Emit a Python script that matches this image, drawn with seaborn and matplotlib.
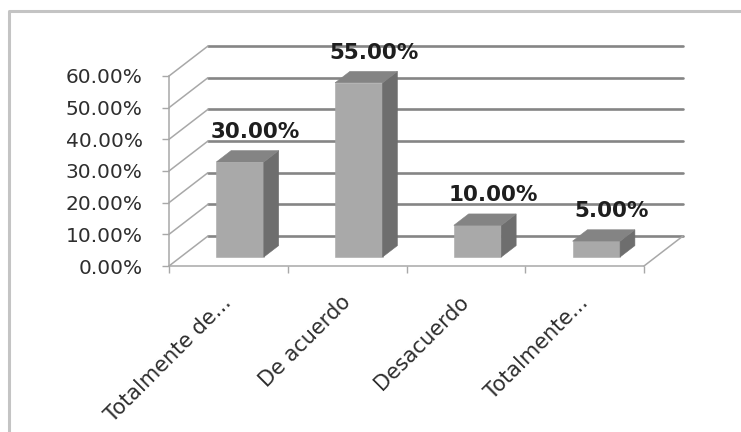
import matplotlib
matplotlib.use("Agg")
import numpy as np
import pandas as pd
import matplotlib.pyplot as plt
import seaborn as sns
from matplotlib.transforms import Affine2D, IdentityTransform
from matplotlib.patches import Polygon
from matplotlib.lines import Line2D
from matplotlib.ticker import PercentFormatter

# Survey answers and their shares
categories = ["Totalmente de...", "De acuerdo", "Desacuerdo", "Totalmente..."]
shares = [0.30, 0.55, 0.10, 0.05]
value_ticks = [0.0, 0.1, 0.2, 0.3, 0.4, 0.5, 0.6]

W, H, DPI = 741, 432, 100
DEPTH_PX = np.array([39.0, 30.0])      # floor depth, pixels to the right / upwards
BAR_FRONT, BAR_BACK = 0.30, 0.68       # bar depth as a fraction of the floor depth

FRONT_C = "#a9a9a9"
SIDE_C = "#6e6e6e"
TOP_C = "#848484"
GRID_C = "#858585"
WALL_C = "#a8a8a8"
TEXT_C = "#2e2e2e"

sns.set_theme(style="white")
plt.rcParams["font.family"] = ["DejaVu Sans"]

fig = plt.figure(figsize=(W / DPI, H / DPI), dpi=DPI)
fig.patch.set_facecolor("white")
# front plane of the 3-D box
ax = fig.add_axes([169 / W, 1 - 266 / H, (644 - 169) / W, 190 / H])
ax.set_facecolor("none")

df = pd.DataFrame({"categoria": categories, "porcentaje": shares})
sns.barplot(data=df, x="categoria", y="porcentaje", color=FRONT_C, saturation=1,
            width=0.4, ax=ax, zorder=5, edgecolor=FRONT_C, linewidth=0.4)
ax.set_xlim(-0.5, 3.5)
ax.set_ylim(0, 0.6)
ax.set_xlabel("")
ax.set_ylabel("")


def shift(frac):
    return Affine2D().translate(*(DEPTH_PX * frac))


def px(x, v, frac=0.0):
    return ax.transData.transform((x, v)) + DEPTH_PX * frac


# back wall gridlines
for t in value_ticks:
    ax.plot([-0.5, 3.5], [t, t], transform=ax.transData + shift(1.0),
            color=GRID_C, lw=1.9, clip_on=False, zorder=1)
    # side wall diagonals
    p0, p1 = px(-0.5, t), px(-0.5, t, 1.0)
    ax.add_line(Line2D([p0[0], p1[0]], [p0[1], p1[1]], transform=IdentityTransform(),
                       color=WALL_C, lw=1.1, clip_on=False, zorder=1))

# right edge of the floor
p0, p1 = px(3.5, 0), px(3.5, 0, 1.0)
ax.add_line(Line2D([p0[0], p1[0]], [p0[1], p1[1]], transform=IdentityTransform(),
                   color=WALL_C, lw=1.1, clip_on=False, zorder=1))

# bars: shift front faces into depth, add side and top faces
for patch in list(ax.patches):
    x0, w, h = patch.get_x(), patch.get_width(), patch.get_height()
    patch.set_transform(ax.transData + shift(BAR_FRONT))
    patch.set_clip_on(False)
    side = [px(x0 + w, 0, BAR_FRONT), px(x0 + w, h, BAR_FRONT),
            px(x0 + w, h, BAR_BACK), px(x0 + w, 0, BAR_BACK)]
    top = [px(x0, h, BAR_FRONT), px(x0 + w, h, BAR_FRONT),
           px(x0 + w, h, BAR_BACK), px(x0, h, BAR_BACK)]
    ax.add_patch(Polygon(side, closed=True, transform=IdentityTransform(),
                         facecolor=SIDE_C, edgecolor=SIDE_C, lw=0.4,
                         clip_on=False, zorder=5))
    ax.add_patch(Polygon(top, closed=True, transform=IdentityTransform(),
                         facecolor=TOP_C, edgecolor=TOP_C, lw=0.4,
                         clip_on=False, zorder=5))

# value labels
for i, v in enumerate(shares):
    ax.annotate(f"{v * 100:.2f}%", (i, v), xytext=(27, 39), textcoords="offset pixels",
                ha="center", va="center", fontsize=15.5, fontweight="bold",
                color="#1e1e1e", annotation_clip=False, zorder=6)

# axes styling
for s in ("top", "right"):
    ax.spines[s].set_visible(False)
for s in ("left", "bottom"):
    ax.spines[s].set_color(WALL_C)
    ax.spines[s].set_linewidth(1.1)
    ax.spines[s].set_zorder(2)

ax.set_yticks(value_ticks)
ax.yaxis.set_major_formatter(PercentFormatter(xmax=1, decimals=2))
ax.tick_params(axis="y", left=True, length=5, width=1, color=WALL_C, pad=14,
               labelsize=14.5, labelcolor=TEXT_C)

ax.set_xticks([-0.5, 0.5, 1.5, 2.5, 3.5])
ax.set_xticklabels([])
ax.set_xticks(range(len(categories)), minor=True)
ax.set_xticklabels(categories, minor=True, rotation=45, ha="right", va="center",
                   rotation_mode="anchor")
ax.tick_params(axis="x", which="major", bottom=True, length=5, width=1, color=WALL_C)
ax.tick_params(axis="x", which="minor", bottom=True, length=0, pad=24,
               labelsize=15, labelcolor=TEXT_C)

# chart frame
fig.add_artist(Line2D([9 / W, 9 / W, 1.0], [0.0, 1 - 11 / H, 1 - 11 / H],
                      transform=fig.transFigure, color="#c4c4c4", lw=2.2))

fig.savefig("out.png", dpi=DPI, facecolor="white")
